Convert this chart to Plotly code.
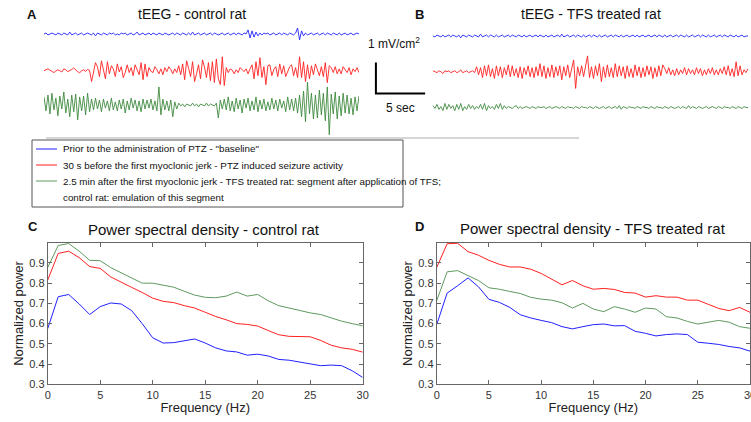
import numpy as np
import plotly.graph_objects as go

W, H = 751, 422
def fx(px): return px / W
def fy(px): return 1 - px / H

# ---------------- data ----------------
freq_hz = list(range(31))
c_baseline = [0.575,0.733,0.744,0.697,0.645,0.684,0.702,0.697,0.664,0.600,0.530,0.504,0.506,0.514,0.524,0.504,0.480,0.465,0.460,0.444,0.449,0.440,0.423,0.419,0.411,0.403,0.392,0.395,0.392,0.367,0.334]
c_seizure = [0.815,0.947,0.958,0.926,0.882,0.873,0.831,0.803,0.779,0.754,0.726,0.710,0.704,0.689,0.677,0.656,0.635,0.619,0.600,0.596,0.588,0.566,0.545,0.537,0.537,0.535,0.517,0.493,0.480,0.473,0.459]
c_after = [0.877,0.986,0.996,0.958,0.913,0.911,0.877,0.852,0.828,0.800,0.800,0.790,0.780,0.760,0.741,0.730,0.728,0.736,0.756,0.736,0.744,0.713,0.689,0.677,0.664,0.653,0.645,0.628,0.612,0.600,0.589]
d_baseline = [0.595,0.751,0.787,0.826,0.782,0.720,0.705,0.680,0.644,0.628,0.616,0.605,0.585,0.574,0.585,0.595,0.598,0.589,0.590,0.562,0.552,0.539,0.546,0.549,0.546,0.508,0.503,0.497,0.487,0.480,0.464]
d_seizure = [0.877,0.995,0.997,0.956,0.938,0.913,0.893,0.880,0.880,0.869,0.848,0.821,0.792,0.813,0.787,0.770,0.774,0.769,0.754,0.751,0.731,0.738,0.731,0.731,0.716,0.716,0.697,0.675,0.664,0.680,0.656]
d_after = [0.713,0.856,0.862,0.838,0.813,0.777,0.770,0.759,0.749,0.730,0.721,0.716,0.703,0.677,0.700,0.672,0.659,0.684,0.672,0.656,0.677,0.672,0.634,0.628,0.611,0.598,0.606,0.616,0.607,0.585,0.577]

# tEEG traces, microvolt/cm^2, 32 s segments
a_baseline = [0,30,-30,0,30,0,-30,30,0,-30, 30,0,-30,60,-30,0,30,-30,0,30,
              -30,0,30,0,-30,30,-60,30,0,-30, 30,0,-30,30,0,30,-30,0,-30,30,
              0,30,-30,0,30,-30,0,60,-30,0, 30,-30,0,30,-30,30,0,-30,30,0,
              -30,30,0,-30,0,30,-30,30,0,-30, 30,0,-30,30,-30,60,-30,0,30,-30,
              0,30,-30,0,30,-30,30,0,-30,0, 30,-30,0,30,-30,0,30,-30,30,0,
              -30,30,0,130,-130,100,-100,60,-60,30, -30,30,0,30,-30,0,30,-30,0,30,
              -30,30,0,-30,30,0,-30,30,190,-190, 100,-60,30,-30,0,30,-30,0,30,-30,
              0,30,-30,30,0,-30,30,0,-30,30, -30,0,30,-30,0,30,-30,0,30,0]
a_seizure = [0,30,60,20,-30,-60,-10,30,0,-40,60,30,-30,0,40,90,20,-30,-70,0,30,-20,40,10,
             -350,-80,260,120,-190,320,40,-260,290,-100,160,
             60,-190,220,-40,130,-220,-60,190,-60,100,-160,190,30,-130,
             260,-290,220,-190,
             100,-20,-60,130,30,-100,60,-130,100,-30,130,40,-100,60,-60,
             160,-130,220,-290,320,80,-190,290,-350,-100,190,-260,350,120,-220,260,-320,290,-380,380,-260,-450,450,-480,
             100,-60,60,20,-100,30,-60,100,40,-30,60,-100,60,
             190,-260,290,-160,420,-220,130,-450,160,
             190,-160,40,130,-190,220,-100,160,-190,-40,130,190,-160,100,-220,
             450,-220,290,-350,190,-260,
             160,-130,220,60,-160,130,-190,260,-380,
             160,100,-60,130,-100,60,-100,130,30,-60,100,-130,60,-30,100,-60]
a_after = [260,-190,320,-290,380,-160,220,-350,290,-130,420,-260,190,-380,320,-220,350,-480,260,-190,290,-320,380,-220,
           190,-160,220,-130,160,-220,190,-100,130,-190,220,-160,100,-190,160,-130,190,-260,130,-160,220,-100,160,-190,130,-220,190,-130,160,-100,190,-160,130,-190,
           580,-320,190,-160,130,-190,160,-380,100,-130,
           60,-30,30,-60,30,0,-30,60,-30,30,-60,30,0,-30,60,-30,30,0,-30,60,
           -420,160,-130,
           190,-160,260,-190,130,-220,220,-130,160,-260,190,-100,220,-190,130,-160,260,-220,160,-130,190,-190,100,-160,220,-130,160,-190,190,-100,130,-220,260,-160,190,-190,220,-260,
           320,-380,450,-540,740,-290,380,-450,320,-420,480,-320,380,-510,580,-960,350,-290,420,-450,290,-350,380,-260,320,-290,220,-320,260,-190,290]
b_baseline = [0,-30,30,0,-30,30,-30,0,30,-30, 30,0,-30,30,-60,30,0,-30,30,0,
              -30,30,0,-30,60,-30,0,30,-30,30, 0,-30,30,-30,0,30,-30,0,30,-30,
              30,0,-30,30,0,-30,30,-30,0,30, -30,0,30,-30,30,0,-30,30,-30,0,
              30,-30,0,30,-30,60,-30,0,30,-30, 0,30,-30,30,0,-30,30,-30,0,30,
              -30,30,0,-30,30,-30,0,30,-30,0, 30,-30,30,0,-30,30,-30,0,30,-30,
              0,30,-30,30,-30,0,30,-30,0,30, -30,0,30,-30,30,0,-30,30,-30,0,
              30,-30,0,30,-30,30,0,-30,30,-30, 0,30,-30,0,30,-30,30,0,-30,30,
              -30,0,30,-30,0,30,-30,30,0,-30, 30,0,-30,30,-30,0,30,-30,0,0]
b_seizure = [30,0,-30,30,0,-60,30,0,30,-30,0,30,-30,0,60,-30,0,30,-30,0,30,-30,
             160,-100,130,-190,190,-130,220,-160,100,-220,190,-130,160,-190,130,-100,220,-160,190,-130,100,-190,160,-220,130,-100,190,-160,130,-190,160,-130,
             260,-160,190,-220,130,-160,220,-190,160,-130,190,-260,160,-130,220,-190,130,
             380,-540,160,
             -130,190,-160,130,510,
             -190,160,-220,190,-130,260,-320,160,-190,220,-160,130,-190,260,-160,190,-130,160,-220,190,-160,100,-190,220,-130,160,-190,130,-160,190,-100,160,-220,130,-160,190,-130,220,
             100,-60,130,-100,60,-130,100,-100,60,-60,130,-100,100,-60,60,-100,130,-60,100,-130,60,-100,100,-60,130,-100,60,-100,100,-60,
             160,-100,190,-130,100,-160,320,-130,190,-100,60,-30,100]
b_after = [60,-30,100,-60,30,-100,130,-60,100,-30, 60,-100,100,-60,130,-100,30,-60,100,-30,
           60,-60,30,-30,100,-60,130,-100,60,-30, 30,-60,100,-30,130,-60,60,-30,30,0,
           -30,30,60,-30,30,-30,0,30,
           0,-30,30,0,-30,30,0,0,30,-30, 0,30,-30,0,30,0,-30,30,0,-30,
           30,0,0,-30,30,0,-30,30,0,0, -30,30,0,-30,30,0,-30,0,30,-30,
           0,30,-30,0,30,-30,60,-60,30,0, -30,30,0,0,-30,30,0,-30,30,0,
           0,-30,30,0,-30,30,0,0,-30,30, 0,-30,30,0,-30,0,30,-30,30,0,
           -30,60,-30,30,0,-30,30,0,-30,0, 30,-30,0,30,0,-30,30,0,-30,30,
           0,0,-30,30,0,-30,30,0,-30,30,0,0]

legend_names = ['Prior to the administration of PTZ - "baseline"',
                '30 s before the first myoclonic jerk - PTZ induced seizure activity',
                '2.5 min after the first myoclonic jerk - TFS treated rat: segment after application of TFS;<br>control rat: emulation of this segment']

SEG_SEC = 32.0
BLUE, RED = '#2020ff', '#ff2020'
GREEN_EEG, GREEN_PSD = '#3f8a3f', '#5f9a5f'

# vertical offsets (µV) of the stacked traces inside panels A/B
OFF_A = [3420, 2235, 1130]
OFF_B = [3355, 2203, 1048]

fig = go.Figure()

def t_axis(vals):
    return np.linspace(0, SEG_SEC, len(vals))

for vals, off, col in zip([a_baseline, a_seizure, a_after], OFF_A, [BLUE, RED, GREEN_EEG]):
    fig.add_trace(go.Scatter(x=t_axis(vals), y=np.array(vals) + off, mode='lines',
                             line=dict(color=col, width=0.9), showlegend=False,
                             xaxis='x', yaxis='y', hoverinfo='skip'))
for vals, off, col in zip([b_baseline, b_seizure, b_after], OFF_B, [BLUE, RED, GREEN_EEG]):
    fig.add_trace(go.Scatter(x=t_axis(vals), y=np.array(vals) + off, mode='lines',
                             line=dict(color=col, width=0.9), showlegend=False,
                             xaxis='x2', yaxis='y2', hoverinfo='skip'))

# scale bar: 1 mV/cm^2 vertical, 5 s horizontal (drawn in panel-B data units)
fig.add_trace(go.Scatter(x=[-5.8, -5.8, -5.8 + 5.0], y=[1500 + 1000, 1500, 1500], mode='lines',
                         line=dict(color='black', width=2), showlegend=False,
                         xaxis='x2', yaxis='y2', hoverinfo='skip'))

PSD_COLORS = [BLUE, RED, GREEN_PSD]
for vals, col, name in zip([c_baseline, c_seizure, c_after], PSD_COLORS, legend_names):
    fig.add_trace(go.Scatter(x=freq_hz, y=vals, mode='lines', name=name, showlegend=False,
                             line=dict(color=col, width=1), xaxis='x3', yaxis='y3'))
for vals, col, name in zip([d_baseline, d_seizure, d_after], PSD_COLORS, legend_names):
    fig.add_trace(go.Scatter(x=freq_hz, y=vals, mode='lines', name=name, showlegend=False,
                             line=dict(color=col, width=1), xaxis='x4', yaxis='y4'))

FONT = 'Liberation Sans, Arial, sans-serif'
hidden = dict(visible=False, fixedrange=True, automargin=False)
psd_x = dict(range=[0, 30], tickvals=[0, 5, 10, 15, 20, 25, 30], ticks='inside', ticklen=4,
             showline=True, mirror='ticks', linecolor='#666', linewidth=1, tickcolor='#666',
             showgrid=False, zeroline=False, automargin=False, ticklabeloverflow='allow',
             tickfont=dict(size=11, color='#333', family=FONT),
             title=dict(text='Frequency (Hz)', font=dict(size=13, color='#222', family=FONT), standoff=1))
psd_y = dict(range=[0.3, 1.0], tickvals=[0.3, 0.4, 0.5, 0.6, 0.7, 0.8, 0.9], ticks='inside', ticklen=4,
             showline=True, mirror='ticks', linecolor='#666', linewidth=1, tickcolor='#666',
             showgrid=False, zeroline=False, automargin=False,
             tickfont=dict(size=11, color='#333', family=FONT),
             title=dict(text='Normalized power', font=dict(size=13, color='#222', family=FONT), standoff=2))

ymax_uv = 125 / 31 * 1000
fig.update_layout(
    width=W, height=H, margin=dict(l=0, r=0, t=0, b=0, autoexpand=False),
    paper_bgcolor='white', plot_bgcolor='white',
    font=dict(family=FONT, color='#222'),
    xaxis=dict(domain=[fx(44), fx(359)], range=[0, SEG_SEC], **hidden),
    yaxis=dict(domain=[fy(140), fy(15)], range=[0, ymax_uv], **hidden),
    xaxis2=dict(domain=[fx(370), fx(748)], range=[-6.4, SEG_SEC], **hidden),
    yaxis2=dict(domain=[fy(140), fy(15)], range=[0, ymax_uv], **hidden),
    xaxis3=dict(domain=[fx(47.7), fx(362.7)], anchor='y3', **psd_x),
    yaxis3=dict(domain=[fy(384.3), fy(242.7)], anchor='x3', **psd_y),
    xaxis4=dict(domain=[fx(436.7), fx(750)], anchor='y4', **psd_x),
    yaxis4=dict(domain=[fy(384.3), fy(242.7)], anchor='x4', **psd_y),
    showlegend=False,
)

# grey rule under the tEEG panels
fig.add_shape(type='line', xref='paper', yref='paper', x0=fx(46), x1=fx(579), y0=fy(138), y1=fy(138),
              line=dict(color='#c8c8c8', width=1.5))

# legend box (shared by all panels)
fig.add_shape(type='rect', xref='paper', yref='paper', x0=fx(32), x1=fx(403), y0=fy(207), y1=fy(140),
              line=dict(color='#555', width=1), fillcolor='white', layer='below')
LEG_FONT = dict(family='Liberation Sans Narrow, Arial Narrow, ' + FONT, size=9.8, color='#111')
row = 0
for name, col in zip(legend_names, PSD_COLORS):
    ly = 149 + 16 * row
    fig.add_shape(type='line', xref='paper', yref='paper', x0=fx(36), x1=fx(57), y0=fy(ly), y1=fy(ly),
                  line=dict(color=col, width=1))
    for part in name.split('<br>'):
        fig.add_annotation(text=part, x=fx(61), y=fy(149 + 16 * row), xref='paper', yref='paper',
                           showarrow=False, xanchor='left', yanchor='middle', align='left', font=LEG_FONT)
        row += 1

def ann(text, x, y, size, bold=False, xanchor='center'):
    fig.add_annotation(text=('<b>%s</b>' % text) if bold else text, x=fx(x), y=fy(y),
                       xref='paper', yref='paper', showarrow=False, xanchor=xanchor, yanchor='middle',
                       font=dict(size=size, family=FONT, color='#111'))

ann('tEEG - control rat', 192, 14, 14)
ann('tEEG - TFS treated rat', 591, 14, 14)
ann('Power spectral density - control rat', 204, 229, 15)
ann('Power spectral density - TFS treated rat', 593, 228, 15)
ann('A', 32, 14, 13, bold=True)
ann('B', 419, 14, 13, bold=True)
ann('C', 33, 226, 13, bold=True)
ann('D', 419, 226, 13, bold=True)
ann('1 mV/cm<sup>2</sup>', 394, 43, 12)
ann('5 sec', 400, 108, 12)

fig.write_html('out.html', config={'displayModeBar': False},
               post_script="document.body.style.margin='0';document.body.style.overflow='hidden';")
